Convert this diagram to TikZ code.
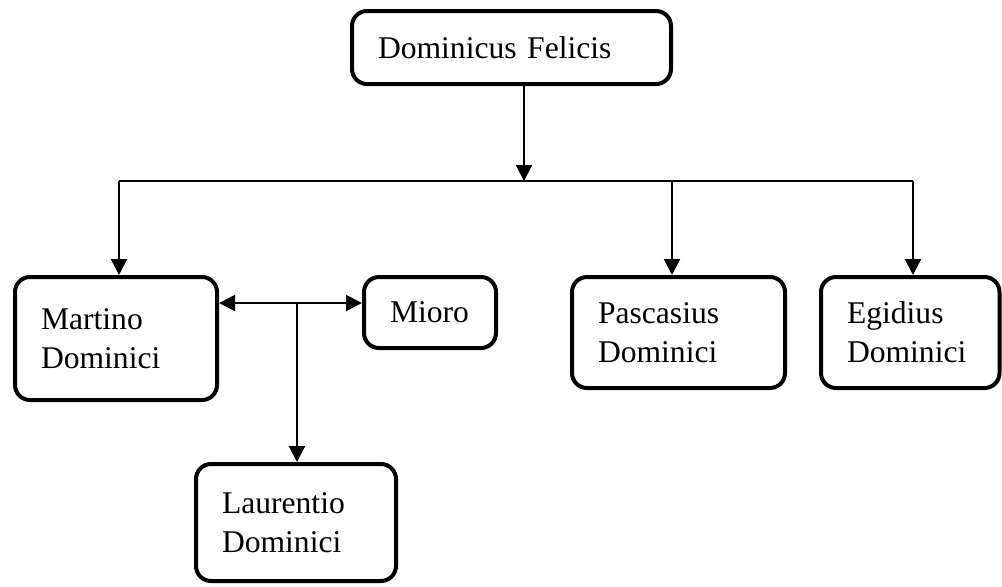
\documentclass[tikz,border=0pt]{standalone}
\usepackage{fontspec}
\setmainfont{Liberation Serif}
\usepackage{tikz}
\usetikzlibrary{arrows.meta}
\tikzstyle{person} = [rectangle, draw, line width=2pt, rounded corners=7.5pt,
    align=left, inner xsep=13pt, inner ysep=0pt,
    font=\fontsize{15.8}{19.5}\selectfont]
\tikzstyle{link} = [draw, line width=1pt, -{Triangle[width=8pt,length=8pt]}]

\begin{document}
\begin{tikzpicture}[x=0.5pt, y=-0.5pt]
    \useasboundingbox (0,0) rectangle (1002,586);
    % boxes
    \node [person, minimum width=159.5pt, minimum height=36.5pt, text width=133.5pt] (dom) at (511.5,47.5) {Dominicus Felicis};
    \node [person, minimum width=101pt, minimum height=61.5pt, text width=75pt] (mar) at (116,338.5) {Martino\\Dominici};
    \node [person, minimum width=66pt, minimum height=35.5pt, text width=40pt] (mio) at (430,312.5) {Mioro};
    \node [person, minimum width=106.5pt, minimum height=55.5pt, text width=80.5pt] (pas) at (678.5,332.5) {Pascasius\\Dominici};
    \node [person, minimum width=89.25pt, minimum height=55.5pt, text width=63.25pt] (egi) at (910.25,332.5) {Egidius\\Dominici};
    \node [person, minimum width=100pt, minimum height=58.5pt, text width=74pt] (lau) at (296,522.5) {Laurentio\\Dominici};
    % bus
    \coordinate (hub) at (524,181);
    \coordinate (busL) at (119,181);
    \coordinate (busP) at (672,181);
    \coordinate (busR) at (913,181);
    \draw [line width=0.75pt] (busL) -- (busR);
    \path [link] (dom.south -| hub) -- (hub);
    \path [link] (busL) -- (busL |- mar.north);
    \path [link] (busP) -- (busP |- pas.north);
    \path [link] (busR) -- (busR |- egi.north);
    % marriage line
    \coordinate (mid) at (297,303);
    \path [link] (mid) -- (mid -| mar.east);
    \path [link] (mid) -- (mid -| mio.west);
    \path [link] (mid) -- (mid |- lau.north);
\end{tikzpicture}
\end{document}
